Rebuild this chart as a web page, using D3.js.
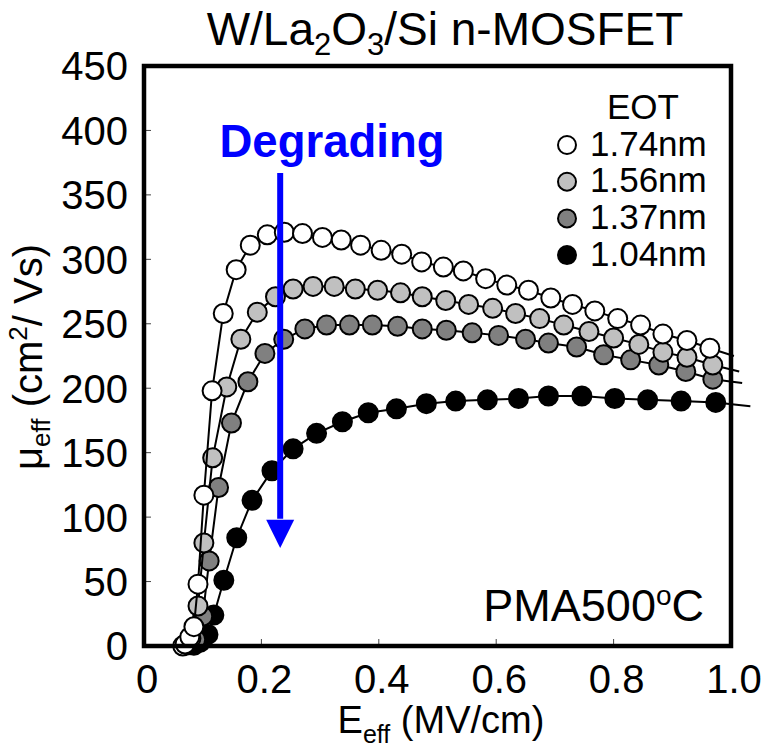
<!DOCTYPE html>
<html><head><meta charset="utf-8">
<script src="https://cdn.jsdelivr.net/npm/d3@7"></script>
<style>body{margin:0;background:#fff}svg{display:block}text{font-family:"Liberation Sans",Arial,sans-serif}</style>
</head><body><svg id="c" width="767" height="748"></svg>
<script>
// ---- data ----
const eotLabels = ["1.74nm", "1.56nm", "1.37nm", "1.04nm"];
const fillColors = ["#ffffff", "#c0c0c0", "#808080", "#000000"];

const e174X = [0.066,0.070,0.078,0.085,0.092,0.102,0.116,0.135,0.157,0.181,0.210,0.239,0.270,0.304,0.336,0.369,0.404,0.439,0.473,0.510,0.544,0.582,0.618,0.655,0.693,0.730,0.768,0.807,0.846,0.884,0.925,0.964];
const e174Y = [0,1.5,7,15,48,117,198,258,292,311,319,321,320,317,315,311,307,304,298,294,291,285,280,276,270,265,260,254,249,242,237,231];

const e156X = [0.072,0.080,0.092,0.102,0.117,0.141,0.165,0.193,0.224,0.254,0.288,0.324,0.360,0.398,0.437,0.474,0.514,0.553,0.594,0.633,0.674,0.715,0.758,0.800,0.843,0.884,0.925,0.969];
const e156Y = [1,6,31,80,146,201,238,259,271,277,279,279,277,276,274,271,268,265,262,258,254,249,244,239,234,228,224,218];

const e137X = [0.075,0.088,0.100,0.111,0.127,0.149,0.177,0.206,0.238,0.274,0.311,0.350,0.389,0.432,0.474,0.515,0.559,0.604,0.650,0.689,0.737,0.783,0.829,0.877,0.923,0.969];
const e137Y = [1,5,23,66,123,173,205,227,238,246,249,249,249,248,246,245,243,241,238,235,232,226,222,218,213,207];

const e104X = [0.085,0.096,0.109,0.119,0.136,0.158,0.184,0.218,0.254,0.294,0.338,0.382,0.430,0.481,0.531,0.585,0.638,0.689,0.746,0.802,0.858,0.915,0.974];
const e104Y = [0.5,3,9,24,51,84,113,136,153,165,174,181,184,188,190,191,192,194,194,192,191,190,189];

// fitted-line continuation past the last point
const tailX = [1.005, 1.014, 1.019, 1.033];
const tailY = [225, 213, 204, 186];

const xTicks = [0, 0.2, 0.4, 0.6, 0.8, 1.0];
const xTickLabels = ["0", "0.2", "0.4", "0.6", "0.8", "1.0"];
const yTicks = [0, 50, 100, 150, 200, 250, 300, 350, 400, 450];

const arrowX = 0.232, arrowTop = 367, arrowBase = 98, arrowTip = 76;

// ---- chart ----
const svg = d3.select("#c");
const x = d3.scaleLinear().domain([0, 1]).range([144, 731]);
const y = d3.scaleLinear().domain([0, 450]).range([646, 66]);

const series = [
  {xs: e174X, ys: e174Y},
  {xs: e156X, ys: e156Y},
  {xs: e137X, ys: e137Y},
  {xs: e104X, ys: e104Y}
].map((s, i) => ({label: eotLabels[i], fill: fillColors[i],
  pts: s.xs.map((v, j) => [v, s.ys[j]]), tail: [tailX[i], tailY[i]]}));

// ticks (inward, thin)
const tickG = svg.append("g");
tickG.selectAll("line.yt").data(yTicks.slice(1, -1)).join("line")
  .attr("x1", x(0)).attr("x2", x(0) + 7).attr("y1", d => y(d)).attr("y2", d => y(d))
  .attr("stroke", "#444").attr("stroke-width", 1);
tickG.selectAll("line.xt").data(xTicks.slice(1, -1)).join("line")
  .attr("y1", y(0)).attr("y2", y(0) - 7).attr("x1", d => x(d)).attr("x2", d => x(d))
  .attr("stroke", "#444").attr("stroke-width", 1);

// tick labels
svg.append("g").selectAll("text").data(yTicks).join("text")
  .attr("x", 128).attr("y", d => y(d)).attr("dy", "0.36em")
  .attr("text-anchor", "end").attr("font-size", 40).text(d => d);
svg.append("g").selectAll("text").data(xTicks).join("text")
  .attr("x", d => x(d) + 3).attr("y", 693).attr("text-anchor", "middle")
  .attr("font-size", 40).text((d, i) => xTickLabels[i]);

// series (black first so the open circles sit on top)
const line = d3.line().x(d => x(d[0])).y(d => y(d[1]));
series.slice().reverse().forEach(s => {
  svg.append("path").datum(s.pts.concat([s.tail])).attr("d", line)
    .attr("fill", "none").attr("stroke", "#000").attr("stroke-width", 2);
  svg.append("g").selectAll("circle").data(s.pts).join("circle")
    .attr("cx", d => x(d[0])).attr("cy", d => y(d[1])).attr("r", 9.5)
    .attr("fill", s.fill).attr("stroke", "#000").attr("stroke-width", 2);
});

// frame
svg.append("rect").attr("x", x(0)).attr("y", y(450))
  .attr("width", x(1) - x(0)).attr("height", y(0) - y(450))
  .attr("fill", "none").attr("stroke", "#000").attr("stroke-width", 4.5);

// arrow
svg.append("line").attr("x1", x(arrowX)).attr("x2", x(arrowX))
  .attr("y1", y(arrowTop)).attr("y2", y(arrowBase) - 1)
  .attr("stroke", "#0000ff").attr("stroke-width", 6);
svg.append("path")
  .attr("d", `M${x(arrowX) - 14},${y(arrowBase)}L${x(arrowX) + 14},${y(arrowBase)}L${x(arrowX)},${y(arrowTip)}Z`)
  .attr("fill", "#0000ff");
svg.append("text").attr("x", 332).attr("y", 157).attr("text-anchor", "middle")
  .attr("font-size", 45.5).attr("font-weight", "bold").attr("fill", "#0000ff").text("Degrading");

// legend
svg.append("text").attr("x", 643).attr("y", 119).attr("text-anchor", "middle")
  .attr("font-size", 35).text("EOT");
const lg = svg.append("g").selectAll("g").data(series).join("g")
  .attr("transform", (d, i) => `translate(0,${145 + i * 36.7})`);
lg.append("circle").attr("cx", 567).attr("cy", 0).attr("r", 9)
  .attr("fill", d => d.fill).attr("stroke", "#000").attr("stroke-width", 2);
lg.append("text").attr("x", 590).attr("y", 10.5).attr("font-size", 35).text(d => d.label);

// PMA annotation
const pma = svg.append("text").attr("x", 704).attr("y", 621).attr("text-anchor", "end").attr("font-size", 45);
pma.append("tspan").text("PMA500");
pma.append("tspan").attr("font-size", 28).attr("dy", -16).text("o");
pma.append("tspan").attr("dy", 16).text("C");

// title
const t = svg.append("text").attr("x", 445).attr("y", 45).attr("text-anchor", "middle").attr("font-size", 46);
t.append("tspan").text("W/La");
t.append("tspan").attr("font-size", 31).attr("dy", 10).text("2");
t.append("tspan").attr("dy", -10).text("O");
t.append("tspan").attr("font-size", 31).attr("dy", 10).text("3");
t.append("tspan").attr("dy", -10).text("/Si n-MOSFET");

// axis titles
const xl = svg.append("text").attr("x", 441).attr("y", 733).attr("text-anchor", "middle").attr("font-size", 38);
xl.append("tspan").text("E");
xl.append("tspan").attr("font-size", 25).attr("dy", 10).text("eff");
xl.append("tspan").attr("dy", -10).text(" (MV/cm)");

const yl = svg.append("text").attr("transform", "translate(42,357) rotate(-90)")
  .attr("text-anchor", "middle").attr("font-size", 40);
yl.append("tspan").text("\u03bc");
yl.append("tspan").attr("font-size", 26).attr("dy", 8).text("eff");
yl.append("tspan").attr("dy", -8).text(" (cm");
yl.append("tspan").attr("font-size", 26).attr("dy", -15).text("2");
yl.append("tspan").attr("dy", 15).text("/ Vs)");
</script></body></html>
